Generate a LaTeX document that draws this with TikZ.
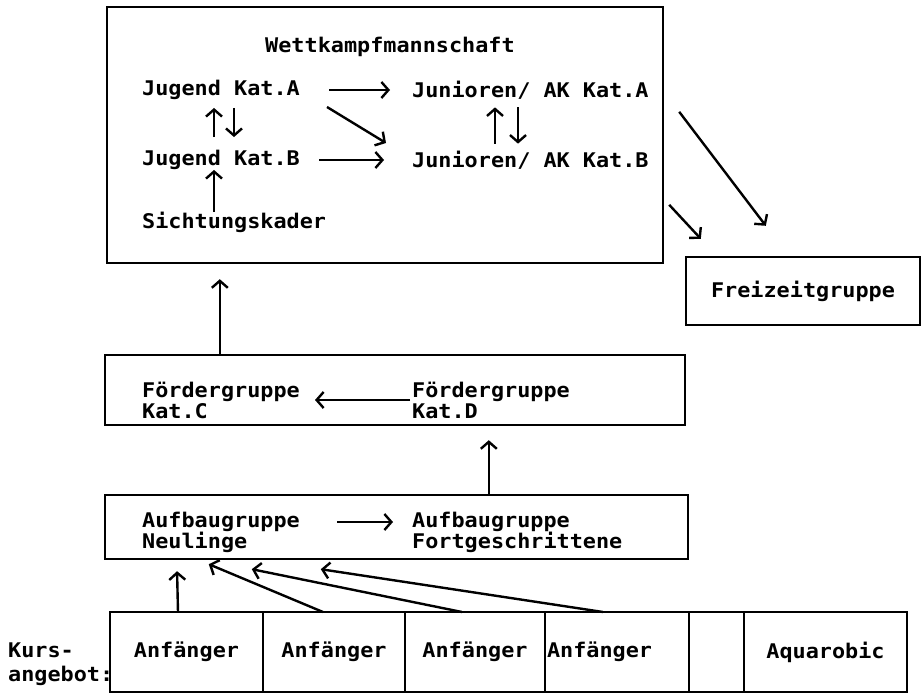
\documentclass[tikz,border=0pt]{standalone}
\usepackage{fontspec}
\newfontfamily\dotfont[FakeStretch=1.08]{DejaVu Sans Mono}
\usepackage{tikz}
\usetikzlibrary{arrows.meta,positioning}

\begin{document}
\begin{tikzpicture}[x=1pt, y=-1pt,
        every node/.style={font=\dotfont\bfseries\fontsize{20.2}{21}\selectfont},
        group/.style={draw, rectangle, line width=2.4pt, inner sep=0pt},
        lbl/.style={anchor=west, inner sep=0pt, align=left},
        cell/.style={draw, rectangle, line width=2.4pt, inner sep=2pt, outer sep=0pt, minimum height=80pt},
        flow/.style={->, line width=2.4pt},
        >={Straight Barb[length=7pt,width=16pt]}]

        \useasboundingbox (0,0) rectangle (923,699);

        % Wettkampfmannschaft
        \node[group, minimum width=556pt, minimum height=256pt] (wett) at (385,135) {};
        \node (wtitle) at (390,47) {Wettkampfmannschaft};
        \node[lbl] (jugA) at (142,90) {Jugend Kat.A};
        \node[lbl] (jugB) at (142,160) {Jugend Kat.B};
        \node[lbl] (sicht) at (142,222) {Sichtungskader};
        \node[lbl] (junA) at (412,90) {Junioren/ AK Kat.A};
        \node[lbl] (junB) at (412,160) {Junioren/ AK Kat.B};

        % Freizeitgruppe
        \node[group, minimum width=234pt, minimum height=68pt] (frei) at (803,291) {Freizeitgruppe};

        % Foerdergruppen
        \node[group, minimum width=580pt, minimum height=70pt] (foerd) at (395,390) {};
        \node[lbl] (foerdC) at (142,400) {Fördergruppe\\Kat.C};
        \node[lbl] (foerdD) at (412,400) {Fördergruppe\\Kat.D};

        % Aufbaugruppen
        \node[group, minimum width=583pt, minimum height=64pt] (aufb) at (396.5,527) {};
        \node[lbl] (aufbN) at (142,532) {Aufbaugruppe\\Neulinge};
        \node[lbl] (aufbF) at (412,532) {Aufbaugruppe\\Fortgeschrittene};

        % Kursangebot
        \node[lbl, font=\dotfont\bfseries\fontsize{20.2}{24}\selectfont] (kursl) at (8,664) {Kurs-\\angebot:};
        \node[cell, minimum width=153pt] (k1) at (186.5,652) {Anfänger};
        \node[cell, minimum width=142pt, right=0pt of k1] (k2) {Anfänger};
        \node[cell, minimum width=140pt, right=0pt of k2] (k3) {Anfänger};
        \node[cell, minimum width=144pt, text width=140pt, align=left, right=0pt of k3] (k4) {Anfänger};
        \node[cell, minimum width=55pt, right=0pt of k4] (k5) {};
        \node[cell, minimum width=163pt, right=0pt of k5] (k6) {Aquarobic};

        % Connections
        \draw[flow, shorten <=29pt, shorten >=22pt] (jugA.east) -- (junA.west);
        \draw[flow] ([xshift=27pt,yshift=-17pt]jugA.east) -- ([xshift=-26pt,yshift=17pt]junB.west);
        \draw[flow, shorten <=19pt, shorten >=28pt] (jugB.east) -- (junB.west);
        \draw[flow, shorten <=13pt, shorten >=8pt] ([xshift=72pt]jugB.north west) -- ([xshift=72pt]jugA.south west);
        \draw[flow, shorten <=8pt, shorten >=13pt] ([xshift=92pt]jugA.south west) -- ([xshift=92pt]jugB.north west);
        \draw[flow, shorten <=7pt, shorten >=8pt] ([xshift=83pt]junB.north west) -- ([xshift=83pt]junA.south west);
        \draw[flow, shorten <=8pt, shorten >=7pt] ([xshift=106pt]junA.south west) -- ([xshift=106pt]junB.north west);
        \draw[flow] ([xshift=72pt]sicht.north west) -- ([xshift=72pt]jugB.south west);

        \draw[flow] ([xshift=15pt,yshift=-106pt]wett.north east) -- ([xshift=81pt,yshift=30pt]frei.north west);
        \draw[flow] ([xshift=5pt,yshift=-199pt]wett.north east) -- ([xshift=16pt,yshift=17pt]frei.north west);

        \draw[flow, shorten >=15pt] ([xshift=116pt]foerd.north west) -- ([xshift=114pt]wett.south west);
        \draw[flow, shorten <=2pt, shorten >=15pt] (foerdD.west) -- (foerdC.east);
        \draw[flow, shorten >=14pt] ([xshift=385pt]aufb.north west) -- ([xshift=385pt]foerd.south west);
        \draw[flow, shorten <=37pt, shorten >=19pt] ([yshift=10pt]aufbN.east) -- ([yshift=10pt]aufbF.west);

        \draw[flow, shorten >=11pt] ([xshift=-8.5pt]k1.north) -- ([xshift=73pt]aufb.south west);
        \draw[flow] ([xshift=-11pt]k2.north) -- ([xshift=105pt,yshift=-4pt]aufb.south west);
        \draw[flow] ([xshift=-13pt]k3.north) -- ([xshift=148pt,yshift=-9pt]aufb.south west);
        \draw[flow] ([xshift=-14pt]k4.north) -- ([xshift=217pt,yshift=-9pt]aufb.south west);

    \end{tikzpicture}
\end{document}
